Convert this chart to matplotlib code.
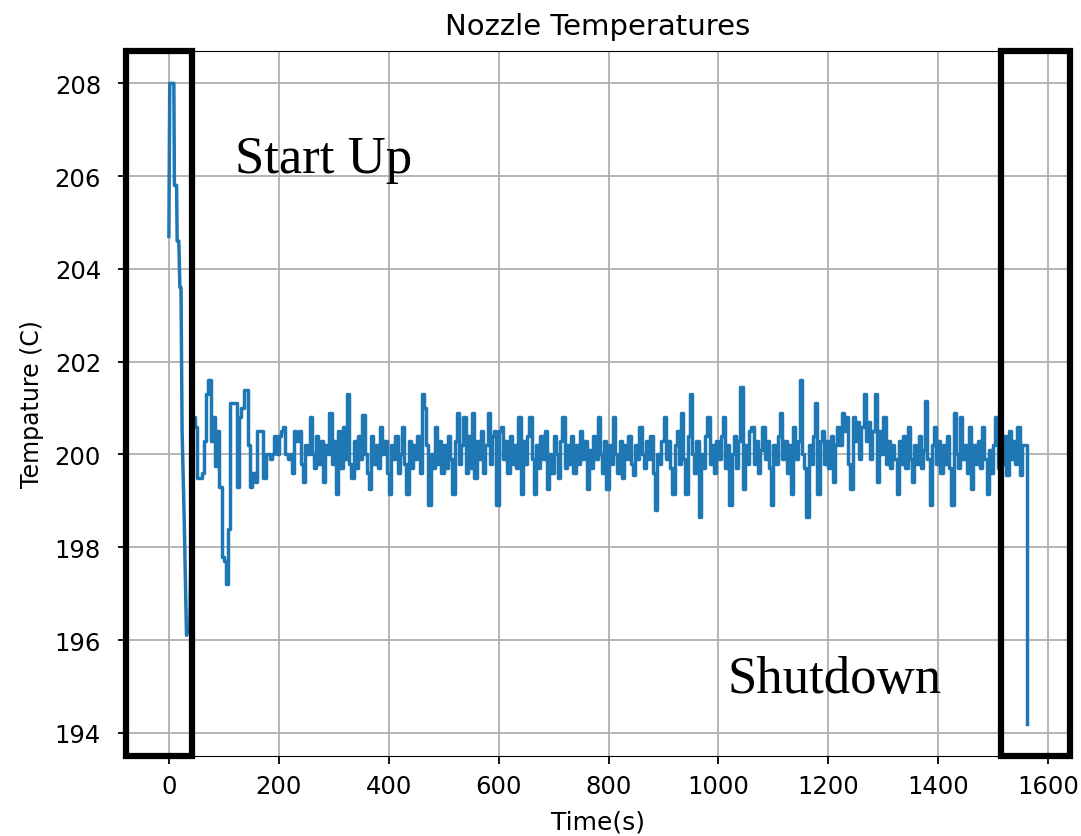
import matplotlib
matplotlib.use('Agg')
import matplotlib.pyplot as plt
import numpy as np
from matplotlib.patches import Rectangle

# start-up phase, logged times are irregular here
startup_t = [0, 0.5, 1.5, 9, 10, 14, 15, 18, 20, 22, 24, 28, 32, 38]
startup_temp = [204.7, 205.9, 208.0, 208.0, 205.8, 205.8, 204.6, 204.6, 203.6, 203.6,
                200.5, 198.5, 196.1, 196.3]

# steady running, one reading every 4 s from t=44
sample_dt = 4
body_t0 = 44
body_temp = [
    200.8, 200.6, 199.5, 199.5, 199.6, 200.3, 201.3, 201.6, 200.3, 200.8, 199.75, 200.5, 199.3, 197.8, 197.7, 197.2, 198.4,
    201.1, 201.1, 201.1, 199.3, 200.8, 201.0, 201.4, 201.4, 200.2, 199.3, 199.6, 199.4, 200.5, 200.5, 200.5, 199.5, 200.0,
    # 180
    200.0, 199.9, 200.0, 200.4, 200.0, 200.4, 200.5, 200.6, 200.0, 199.9, 200.0, 199.6, 200.5, 200.3, 200.5, 199.8, 199.4, 200.2, 200.0, 200.8,
    # 260
    200.0, 199.7, 200.4, 199.8, 200.3, 199.4, 200.2, 200.0, 200.9, 199.8, 200.3, 199.15, 200.5, 199.7, 200.6, 199.9, 201.3, 199.8, 199.5, 200.3,
    # 340
    199.7, 200.4, 199.9, 200.85, 200.0, 199.6, 199.25, 200.4, 199.8, 200.2, 199.7, 200.6, 200.0, 200.3, 199.6, 199.15, 200.2, 199.9, 200.4, 199.6,
    # 420
    200.0, 200.6, 199.8, 199.15, 200.3, 199.7, 200.2, 199.9, 200.4, 199.6, 201.3, 201.0, 200.2, 198.9, 200.0, 199.7, 200.6, 199.8, 200.3, 199.6,
    # 500
    200.2, 199.7, 200.4, 199.9, 199.15, 200.3, 200.9, 199.8, 200.2, 200.8, 199.6, 200.4, 199.7, 200.9, 199.5, 200.3, 199.9, 200.5, 199.6, 200.2,
    # 580
    200.9, 199.8, 200.4, 200.5, 198.9, 200.5, 200.6, 199.9, 200.3, 199.6, 200.4, 199.8, 200.2, 199.7, 200.8, 199.15, 200.3, 199.8, 200.4, 200.8,
    # 660
    199.9, 199.15, 200.2, 199.7, 200.4, 199.9, 200.5, 199.25, 200.0, 199.6, 200.4, 200.0, 199.5, 200.3, 200.8, 199.7, 200.2, 199.8, 200.4, 199.6,
    # 740
    200.2, 199.8, 200.5, 199.9, 200.3, 199.25, 200.1, 199.7, 200.4, 199.9, 200.8, 200.0, 199.6, 200.3, 199.25, 200.2, 199.8, 200.8, 200.0, 199.6,
    # 820
    200.3, 199.5, 200.2, 199.9, 200.4, 199.8, 199.55, 200.2, 199.9, 200.6, 200.0, 199.7, 200.3, 199.9, 200.4, 199.6, 198.8, 200.0, 199.8, 200.3,
    # 900
    200.8, 199.9, 200.3, 199.7, 199.15, 200.2, 200.5, 199.8, 200.9, 199.9, 199.15, 200.4, 201.3, 200.0, 199.6, 200.3, 198.65, 200.0, 199.7, 200.4,
    # 980
    200.8, 199.8, 200.2, 199.6, 200.3, 199.9, 200.4, 200.8, 199.7, 200.2, 198.9, 200.0, 200.4, 199.7, 200.3, 201.45, 199.25, 200.2, 199.8, 200.5,
    # 1060
    200.6, 199.8, 200.3, 199.6, 200.1, 200.6, 199.9, 200.3, 199.7, 198.9, 200.2, 199.8, 200.4, 200.9, 199.9, 200.3, 199.6, 200.2, 199.15, 200.6,
    # 1140
    199.9, 200.3, 201.6, 200.0, 199.7, 198.65, 200.2, 199.8, 200.4, 201.1, 199.15, 200.3, 200.5, 199.8, 200.3, 199.7, 200.4, 199.4, 200.2, 200.6,
    # 1220
    200.2, 200.9, 200.5, 200.8, 199.8, 199.25, 200.8, 200.3, 200.7, 199.9, 200.6, 201.3, 200.3, 200.7, 199.9, 200.5, 201.3, 199.4, 200.5, 200.0,
    # 1300
    200.8, 199.8, 200.3, 199.7, 200.2, 199.9, 199.15, 200.3, 199.8, 200.4, 199.7, 200.6, 199.9, 199.4, 200.2, 199.8, 200.4, 199.7, 200.1, 201.15,
    # 1380
    199.9, 198.9, 200.2, 200.6, 199.8, 200.3, 199.6, 200.2, 199.8, 200.4, 199.7, 198.9, 200.9, 200.0, 199.7, 200.8, 199.9, 200.2, 199.6, 200.6,
    # 1460
    199.25, 200.2, 199.8, 200.3, 199.7, 200.6, 199.9, 199.15, 200.1, 199.6, 200.2, 200.8, 199.7, 200.3, 199.8, 200.4, 199.55, 200.5, 199.9, 200.3,
    # 1540
    199.8, 200.6, 199.55, 200.2, 200.2,
]

# heater switched off
shutdown_t = [1562]
shutdown_temp = [194.2]

body_t = body_t0 + sample_dt * np.arange(len(body_temp))
run_t = np.concatenate([body_t, shutdown_t])
run_temp = np.concatenate([body_temp, shutdown_temp])

fig = plt.figure(figsize=(10.81, 8.37), dpi=100)
ax = fig.add_axes([0.1166, 0.0956, 0.8734, 0.8424])

blue = '#1f77b4'
# startup joined straight onto the first steady reading, the rest held sample to sample
ax.plot(startup_t + [body_t[0]], startup_temp + [body_temp[0]], color=blue, linewidth=2.5)
ax.plot(run_t, run_temp, color=blue, linewidth=2.5, drawstyle='steps-post')
ax.set_xlim(-78, 1640)
ax.set_ylim(193.5, 208.7)
ax.grid(True, color='#b0b0b0', linewidth=1.3)
ax.set_xticks(range(0, 1601, 200))
ax.set_yticks(range(194, 209, 2))
ax.tick_params(labelsize=17.5, length=6, width=1.3)
ax.tick_params(axis='x', pad=7)
ax.tick_params(axis='y', pad=12)
ax.set_title('Nozzle Temperatures', fontsize=21, pad=12)
ax.set_xlabel('Time(s)', fontsize=18, labelpad=8)
ax.set_ylabel('Tempature (C)', fontsize=17, labelpad=8)

# phase boxes, full height of the axes
trans = ax.get_xaxis_transform()
for x0, x1 in [(-78, 42), (1515, 1640)]:
    ax.add_patch(Rectangle((x0, 0), x1 - x0, 1, transform=trans, fill=False,
                           edgecolor='black', linewidth=4.5, clip_on=False, zorder=5))

serif = ['Liberation Serif', 'DejaVu Serif']
ax.text(120, 206.1, 'Start Up', family=serif, fontsize=38, ha='left', va='baseline')
ax.text(1016, 194.87, 'Shutdown', family=serif, fontsize=38, ha='left', va='baseline')

fig.savefig('out.png', dpi=100)
